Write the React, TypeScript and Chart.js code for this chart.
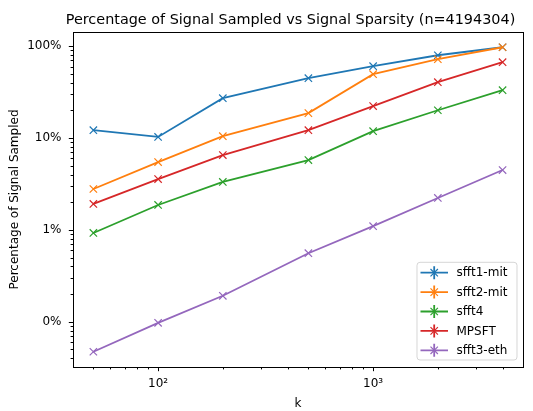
import { useEffect, useRef } from "react";
import { Chart, registerables } from "chart.js";

Chart.register(...registerables);

const kValues = [50, 100, 200, 500, 1000, 2000, 4000];
const seriesNames = ["sfft1-mit", "sfft2-mit", "sfft4", "MPSFT", "sfft3-eth"];
const sfft1Mit = [12.2, 10.3, 27.2, 44.9, 60.6, 79.8, 97.5];
const sfft2Mit = [2.79, 5.48, 10.5, 18.7, 49.6, 72.2, 97.5];
const sfft4 = [0.927, 1.87, 3.33, 5.77, 11.9, 20.1, 33.2];
const mpsft = [1.92, 3.58, 6.53, 12.2, 22.3, 40.6, 67.0];
const sfft3Eth = [0.0472, 0.0975, 0.192, 0.558, 1.1, 2.23, 4.49];
const seriesColors = ["#1f77b4", "#ff7f0e", "#2ca02c", "#d62728", "#9467bd"];
const xTickValues = [100, 1000];
const xTickLabels = ["10²", "10³"];
const yTickValues = [0.1, 1, 10, 100];
const yTickLabels = ["0%", "1%", "10%", "100%"];
const titleText = "Percentage of Signal Sampled vs Signal Sparsity (n=4194304)";

const FONT = "'DejaVu Sans', sans-serif";
const X_MIN = 40.2;
const X_MAX = 4978;
const Y_MIN = 0.0322;
const Y_MAX = 142.9;

function minorValues(min: number, max: number): number[] {
  const out: number[] = [];
  for (let d = Math.floor(Math.log10(min)); d <= Math.ceil(Math.log10(max)); d++) {
    for (let m = 1; m <= 9; m++) {
      const v = m * Math.pow(10, d);
      if (v >= min && v <= max) out.push(v);
    }
  }
  return out;
}

function drawX(ctx: CanvasRenderingContext2D, x: number, y: number, r: number) {
  ctx.beginPath();
  ctx.moveTo(x - r, y - r);
  ctx.lineTo(x + r, y + r);
  ctx.moveTo(x - r, y + r);
  ctx.lineTo(x + r, y - r);
  ctx.stroke();
}

const framePlugin = {
  id: "frame",
  afterDraw(chart: any) {
    const { ctx, chartArea } = chart;
    const xs = chart.scales.x;
    const ys = chart.scales.y;
    ctx.save();
    // title
    ctx.fillStyle = "#000";
    ctx.font = `14.4px ${FONT}`;
    ctx.textAlign = "center";
    ctx.textBaseline = "alphabetic";
    ctx.fillText(titleText, 290.5, 24.3);

    ctx.strokeStyle = "#000";
    ctx.lineWidth = 1;
    // ticks
    const majorsX = new Set(xTickValues);
    for (const v of minorValues(X_MIN, X_MAX)) {
      const px = Math.round(xs.getPixelForValue(v)) + 0.5;
      const len = majorsX.has(v) ? 4.2 : 2.4;
      ctx.beginPath();
      ctx.moveTo(px, chartArea.bottom);
      ctx.lineTo(px, chartArea.bottom + len);
      ctx.stroke();
    }
    for (const v of minorValues(Y_MIN, Y_MAX)) {
      const isMajor = yTickValues.some((m) => Math.abs(m - v) / m < 1e-9);
      const py = Math.round(ys.getPixelForValue(v)) + 0.5;
      const len = isMajor ? 4.2 : 2.4;
      ctx.beginPath();
      ctx.moveTo(chartArea.left, py);
      ctx.lineTo(chartArea.left - len, py);
      ctx.stroke();
    }
    // spines
    ctx.strokeRect(
      Math.round(chartArea.left) + 0.5,
      Math.round(chartArea.top) + 0.5,
      Math.round(chartArea.right - chartArea.left),
      Math.round(chartArea.bottom - chartArea.top)
    );

    // legend
    const bw = 100;
    const bh = 97.7;
    const bx = chartArea.right - 6 - bw;
    const by = chartArea.bottom - 7 - bh;
    ctx.beginPath();
    if ((ctx as any).roundRect) (ctx as any).roundRect(bx, by, bw, bh, 3);
    else ctx.rect(bx, by, bw, bh);
    ctx.fillStyle = "rgba(255,255,255,0.8)";
    ctx.fill();
    ctx.strokeStyle = "rgba(204,204,204,0.8)";
    ctx.lineWidth = 1;
    ctx.stroke();
    ctx.font = `12px ${FONT}`;
    ctx.textBaseline = "middle";
    ctx.textAlign = "left";
    for (let i = 0; i < seriesNames.length; i++) {
      const ry = by + 10.4 + i * 19.4;
      const c = seriesColors[i];
      ctx.strokeStyle = c;
      ctx.lineWidth = 1.8;
      ctx.beginPath();
      ctx.moveTo(bx + 3.5, ry);
      ctx.lineTo(bx + 31, ry);
      ctx.moveTo(bx + 17.2, ry - 6.5);
      ctx.lineTo(bx + 17.2, ry + 6.5);
      ctx.stroke();
      ctx.lineWidth = 1.2;
      drawX(ctx, bx + 17.2, ry, 3.7);
      ctx.fillStyle = "#000";
      ctx.fillText(seriesNames[i], bx + 39.5, ry + 0.5);
    }
    ctx.restore();
  },
};

export default function App() {
  const ref = useRef<HTMLCanvasElement | null>(null);
  useEffect(() => {
    if (!ref.current) return;
    const seriesData = [sfft1Mit, sfft2Mit, sfft4, mpsft, sfft3Eth];
    const chart = new Chart(ref.current, {
      type: "line",
      data: {
        datasets: seriesData.map((vals, i) => ({
          label: seriesNames[i],
          data: kValues.map((k, j) => ({ x: k, y: vals[j] })),
          borderColor: seriesColors[i],
          backgroundColor: seriesColors[i],
          borderWidth: 1.8,
          pointStyle: "crossRot",
          pointRadius: 5.2,
          pointBorderWidth: 1.2,
          pointBorderColor: seriesColors[i],
          fill: false,
          tension: 0,
          order: seriesNames.length - 1 - i,
        })),
      },
      options: {
        responsive: false,
        animation: false,
        devicePixelRatio: 1,
        layout: { padding: { left: 0, right: 10, top: 32, bottom: 0 } },
        plugins: {
          legend: { display: false },
          tooltip: { enabled: false },
          title: { display: false },
        },
        scales: {
          x: {
            type: "logarithmic",
            min: X_MIN,
            max: X_MAX,
            bounds: "data",
            grid: { display: false, drawTicks: false },
            border: { display: false },
            afterBuildTicks: (scale: any) => {
              scale.ticks = xTickValues.map((v) => ({ value: v, major: true }));
            },
            afterFit: (scale: any) => {
              scale.height = 44;
            },
            ticks: {
              color: "#000",
              font: { family: FONT, size: 12 },
              padding: 10,
              maxRotation: 0,
              autoSkip: false,
              callback: (value: any) => {
                const idx = xTickValues.indexOf(Number(value));
                return idx >= 0 ? xTickLabels[idx] : "";
              },
            },
            title: {
              display: true,
              text: "k",
              color: "#000",
              font: { family: FONT, size: 12 },
              padding: { top: 0, bottom: 0 },
            },
          },
          y: {
            type: "logarithmic",
            min: Y_MIN,
            max: Y_MAX,
            bounds: "data",
            grid: { display: false, drawTicks: false },
            border: { display: false },
            afterBuildTicks: (scale: any) => {
              scale.ticks = yTickValues.map((v) => ({ value: v, major: true }));
            },
            afterFit: (scale: any) => {
              scale.width = 73;
            },
            ticks: {
              color: "#000",
              font: { family: FONT, size: 12 },
              padding: 11.5,
              autoSkip: false,
              callback: (value: any) => {
                const idx = yTickValues.findIndex((v) => Math.abs(v - Number(value)) / v < 1e-9);
                return idx >= 0 ? yTickLabels[idx] : "";
              },
            },
            title: {
              display: true,
              text: "Percentage of Signal Sampled",
              color: "#000",
              font: { family: FONT, size: 12 },
              padding: { top: 8, bottom: 0 },
            },
          },
        },
      },
      plugins: [framePlugin],
    } as any);
    return () => chart.destroy();
  }, []);
  return (
    <div style={{ position: "absolute", left: 0, top: 0, width: 533, height: 411, background: "#fff" }}>
      <canvas ref={ref} width={533} height={411} style={{ display: "block" }} />
    </div>
  );
}
